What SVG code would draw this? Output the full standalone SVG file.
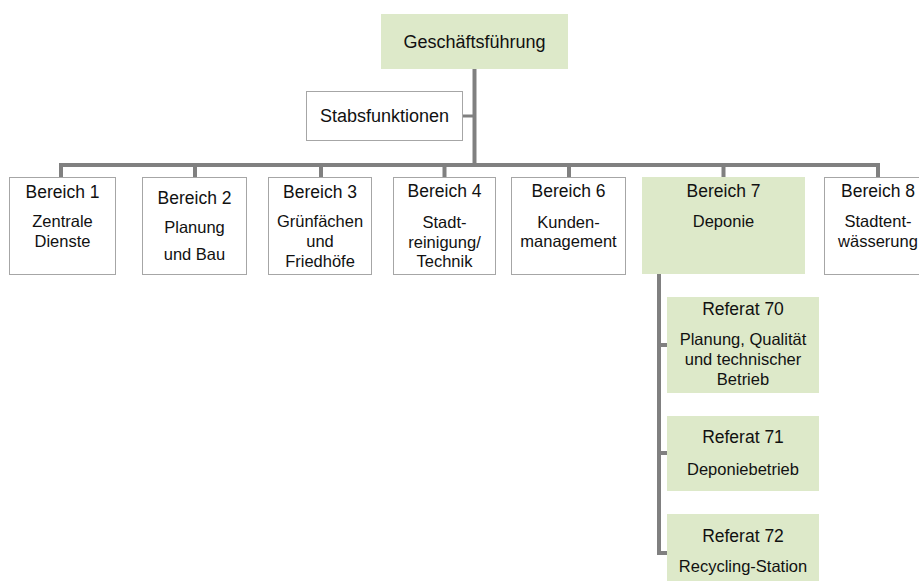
<svg xmlns="http://www.w3.org/2000/svg" width="919" height="581" viewBox="0 0 919 581">
<style>
.box{fill:#ffffff;stroke:#a6a6a6;stroke-width:1}
.green{fill:#dde9c9;stroke:none}
.line{fill:none;stroke:#808080;stroke-width:4;stroke-linejoin:miter}
text{font-family:"Liberation Sans",Arial,sans-serif;fill:#111;text-anchor:middle}
.t{font-size:17.5px}
.s{font-size:16.5px}
</style>
<rect width="919" height="581" fill="#ffffff"/>
<g id="connectors">
<path class="line" d="M474.5,69 V165"/>
<path class="line" d="M463,116 H474.5" style="stroke-width:3"/>
<path class="line" d="M61,177 V165 H878 V177"/>
<path class="line" d="M195,165 V177 M321,165 V177 M444.5,165 V177 M569,165 V177 M723.5,165 V177"/>
<path class="line" d="M659,274 V553 H667 M659,345 H667 M659,453 H667"/>
</g>
<g id="geschaeftsfuehrung">
<rect class="green" x="381" y="14" width="187" height="55"/>
<text class="t" x="474.5" y="48" style="font-size:18px">Geschäftsführung</text>
</g>
<g id="stabsfunktionen">
<rect class="box" x="306.5" y="91.5" width="156" height="49"/>
<text class="t" x="384.5" y="122" style="font-size:18px">Stabsfunktionen</text>
</g>
<g id="bereich1">
<rect class="box" x="9.5" y="177.5" width="106" height="97"/>
<text class="t" x="62.5" y="198">Bereich 1</text>
<text class="s" x="62.5" y="227">Zentrale</text>
<text class="s" x="62.5" y="247">Dienste</text>
</g>
<g id="bereich2">
<rect class="box" x="142.5" y="177.5" width="104" height="97"/>
<text class="t" x="194.5" y="204">Bereich 2</text>
<text class="s" x="194.5" y="233">Planung</text>
<text class="s" x="194.5" y="260">und Bau</text>
</g>
<g id="bereich3">
<rect class="box" x="268.5" y="177.5" width="103" height="97"/>
<text class="t" x="320" y="198">Bereich 3</text>
<text class="s" x="320" y="227">Grünfächen</text>
<text class="s" x="320" y="247">und</text>
<text class="s" x="320" y="267">Friedhöfe</text>
</g>
<g id="bereich4">
<rect class="box" x="393.5" y="177.5" width="102" height="97"/>
<text class="t" x="444.5" y="197">Bereich 4</text>
<text class="s" x="444.5" y="228">Stadt-</text>
<text class="s" x="444.5" y="248">reinigung/</text>
<text class="s" x="444.5" y="267">Technik</text>
</g>
<g id="bereich6">
<rect class="box" x="511.5" y="177.5" width="114" height="97"/>
<text class="t" x="568.5" y="197">Bereich 6</text>
<text class="s" x="568.5" y="228">Kunden-</text>
<text class="s" x="568.5" y="247">management</text>
</g>
<g id="bereich7">
<rect class="green" x="642" y="177" width="163" height="97"/>
<text class="t" x="723.5" y="197">Bereich 7</text>
<text class="s" x="723.5" y="227">Deponie</text>
</g>
<g id="bereich8">
<rect class="box" x="824.5" y="177.5" width="108" height="97"/>
<text class="t" x="878" y="197">Bereich 8</text>
<text class="s" x="878" y="227">Stadtent-</text>
<text class="s" x="878" y="247">wässerung</text>
</g>
<g id="referat70">
<rect class="green" x="667" y="297" width="152" height="96"/>
<text class="t" x="743" y="315">Referat 70</text>
<text class="s" x="743" y="345">Planung, Qualität</text>
<text class="s" x="743" y="365">und technischer</text>
<text class="s" x="743" y="385">Betrieb</text>
</g>
<g id="referat71">
<rect class="green" x="667" y="416" width="152" height="75"/>
<text class="t" x="743" y="443">Referat 71</text>
<text class="s" x="743" y="475">Deponiebetrieb</text>
</g>
<g id="referat72">
<rect class="green" x="667" y="514" width="152" height="67"/>
<text class="t" x="743" y="542">Referat 72</text>
<text class="s" x="743" y="572">Recycling-Station</text>
</g>
</svg>
